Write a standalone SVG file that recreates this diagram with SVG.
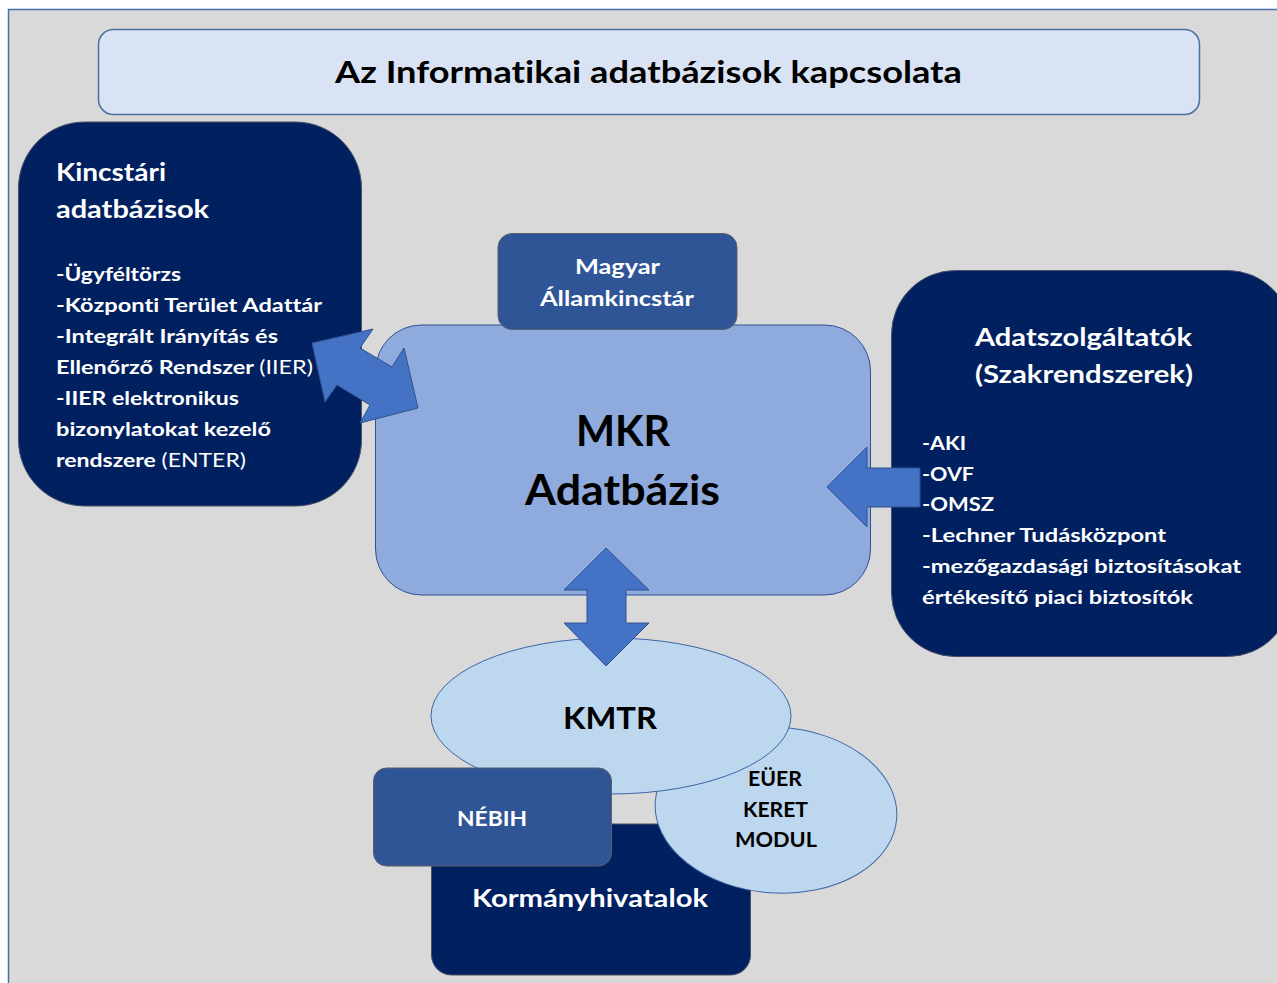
<svg xmlns="http://www.w3.org/2000/svg" width="1277" height="983" viewBox="0 0 1277 983">
<style>
text{font-family:Lato,"Open Sans","Liberation Sans",sans-serif;font-weight:bold;font-variant-ligatures:none}
.w{fill:#ffffff}
.k{fill:#000000}
.n{font-weight:normal}
.navy{fill:#002060;stroke:#4a5068;stroke-width:1}
.mid{fill:#2f5597;stroke:#5a5f6a;stroke-width:1}
.ell{fill:#bdd7ee;stroke:#3d64a8;stroke-width:1}
.arr{fill:#4472c4;stroke:#2f528f;stroke-width:1;stroke-linejoin:miter}
</style>
<rect x="0" y="0" width="1277" height="983" fill="#ffffff"/>
<rect x="8.5" y="9.5" width="1300" height="1000" fill="#d9d9d9" stroke="#4a6ea9" stroke-width="1.5"/>

<g id="title">
<rect x="98.5" y="29.5" width="1101" height="85" rx="15" fill="#dae3f3" stroke="#4a6fa5" stroke-width="1.5"/>
<text x="335" y="83" font-size="31" class="k" textLength="627" lengthAdjust="spacingAndGlyphs">Az Informatikai adatbázisok kapcsolata</text>
</g>

<g id="kincstari">
<rect x="18.5" y="122" width="343" height="384" rx="66" class="navy"/>
<text x="56" y="181" font-size="25" class="w" textLength="110" lengthAdjust="spacingAndGlyphs">Kincstári</text>
<text x="56" y="218" font-size="25" class="w" textLength="153" lengthAdjust="spacingAndGlyphs">adatbázisok</text>
<g font-size="19.5" class="w">
<text x="56" y="281" textLength="125" lengthAdjust="spacingAndGlyphs">-Ügyféltörzs</text>
<text x="56" y="312" textLength="266" lengthAdjust="spacingAndGlyphs">-Központi Terület Adattár</text>
<text x="56" y="343" textLength="222" lengthAdjust="spacingAndGlyphs">-Integrált Irányítás és</text>
<text x="56" y="374" textLength="257" lengthAdjust="spacingAndGlyphs">Ellenőrző Rendszer <tspan class="n">(IIER)</tspan></text>
<text x="56" y="405" textLength="183" lengthAdjust="spacingAndGlyphs">-IIER elektronikus</text>
<text x="56" y="436" textLength="215" lengthAdjust="spacingAndGlyphs">bizonylatokat kezelő</text>
<text x="56" y="467" textLength="190" lengthAdjust="spacingAndGlyphs">rendszere <tspan class="n">(ENTER)</tspan></text>
</g>
</g>

<g id="adatszolgaltatok">
<rect x="891.5" y="270.5" width="400" height="386" rx="64" class="navy"/>
<text x="975" y="346" font-size="25" class="w" textLength="217" lengthAdjust="spacingAndGlyphs">Adatszolgáltatók</text>
<text x="975" y="383" font-size="25" class="w" textLength="218" lengthAdjust="spacingAndGlyphs">(Szakrendszerek)</text>
<g font-size="19.5" class="w">
<text x="922" y="450" textLength="44" lengthAdjust="spacingAndGlyphs">-AKI</text>
<text x="922" y="481" textLength="52" lengthAdjust="spacingAndGlyphs">-OVF</text>
<text x="922" y="511" textLength="72" lengthAdjust="spacingAndGlyphs">-OMSZ</text>
<text x="922" y="542" textLength="244" lengthAdjust="spacingAndGlyphs">-Lechner Tudásközpont</text>
<text x="922" y="573" textLength="319" lengthAdjust="spacingAndGlyphs">-mezőgazdasági biztosításokat</text>
<text x="922" y="604" textLength="271" lengthAdjust="spacingAndGlyphs">értékesítő piaci biztosítók</text>
</g>
</g>

<g id="mkr">
<rect x="375.5" y="325" width="495" height="270" rx="46" fill="#8faadc" stroke="#2f528f" stroke-width="1"/>
<text x="576" y="446" font-size="42" class="k" textLength="94" lengthAdjust="spacingAndGlyphs">MKR</text>
<text x="525" y="505" font-size="42" class="k" textLength="195" lengthAdjust="spacingAndGlyphs">Adatbázis</text>
</g>

<g id="magyar-allamkincstar">
<rect x="498" y="233.5" width="239" height="96" rx="14" class="mid"/>
<text x="575" y="274" font-size="21" class="w" textLength="85" lengthAdjust="spacingAndGlyphs">Magyar</text>
<text x="540" y="306" font-size="21" class="w" textLength="154" lengthAdjust="spacingAndGlyphs">Államkincstár</text>
</g>

<g id="kormanyhivatalok">
<rect x="431.5" y="824" width="319" height="151" rx="20" class="navy"/>
<text x="472" y="907" font-size="25" class="w" textLength="236" lengthAdjust="spacingAndGlyphs">Kormányhivatalok</text>
</g>

<g id="euer">
<ellipse cx="776" cy="810" rx="121" ry="83" class="ell" transform="rotate(4 776 810)"/>
<g font-size="20" class="k">
<text x="748" y="786" textLength="54" lengthAdjust="spacingAndGlyphs">EÜER</text>
<text x="743" y="817" textLength="65" lengthAdjust="spacingAndGlyphs">KERET</text>
<text x="735" y="847" textLength="82" lengthAdjust="spacingAndGlyphs">MODUL</text>
</g>
</g>

<g id="kmtr">
<ellipse cx="611" cy="716" rx="180" ry="78" class="ell"/>
<text x="563" y="729" font-size="31" class="k" textLength="94" lengthAdjust="spacingAndGlyphs">KMTR</text>
</g>

<g id="nebih">
<rect x="373.5" y="768" width="238" height="98" rx="13" class="mid"/>
<text x="457" y="826" font-size="21" class="w" textLength="70" lengthAdjust="spacingAndGlyphs">NÉBIH</text>
</g>

<g id="connectors">
<polygon class="arr" points="312,343 373,329 360,348 392,367 404,348 418,408 360,423 370,405 337,385 325,402"/>
<polygon class="arr" points="827,487 867,447 867,468 920,468 920,507 867,507 867,527"/>
<polygon class="arr" points="606,548 649,590 626,590 626,623 649,623 606,666 564,623 587,623 587,590 564,590"/>
</g>
</svg>
